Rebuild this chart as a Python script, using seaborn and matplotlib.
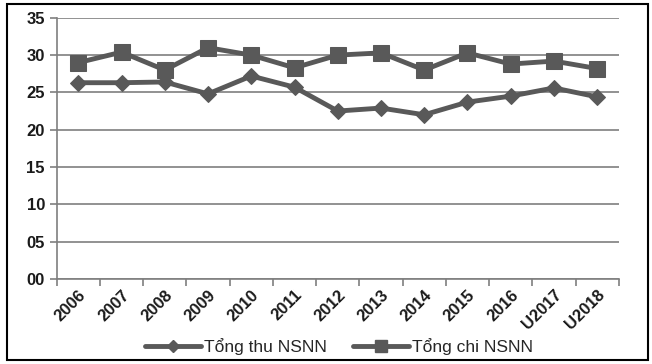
import matplotlib
matplotlib.use('Agg')
import matplotlib.pyplot as plt
import seaborn as sns
import pandas as pd
from matplotlib.patches import Rectangle
from matplotlib.ticker import FixedLocator, FuncFormatter

years = ['2006', '2007', '2008', '2009', '2010', '2011', '2012',
         '2013', '2014', '2015', '2016', 'U2017', 'U2018']
tong_thu = [26.3, 26.3, 26.4, 24.8, 27.2, 25.7, 22.5, 22.9, 22.0, 23.7, 24.5, 25.6, 24.4]
tong_chi = [29.0, 30.4, 28.0, 31.0, 30.0, 28.3, 30.0, 30.3, 28.0, 30.3, 28.8, 29.2, 28.2]

sns.set_style("white")
plt.rcParams['font.family'] = ['Liberation Sans Narrow', 'Liberation Sans', 'DejaVu Sans']

color = '#595959'
df = pd.DataFrame({'year': years * 2,
                   'value': tong_thu + tong_chi,
                   'series': ['Tổng thu NSNN'] * 13 + ['Tổng chi NSNN'] * 13})

fig = plt.figure(figsize=(6.52, 3.64), dpi=100)
ax = fig.add_axes([0.087, 0.234, 0.862, 0.717])
sns.lineplot(data=df, x='year', y='value', style='series', markers=['D', 's'],
             dashes=False, color=color, linewidth=3.5, markersize=9,
             markeredgecolor=color, ax=ax, legend=False)
ax.lines[0].set_markersize(8)
ax.lines[1].set_markersize(11)

ax.set_ylim(0, 35)
ax.set_xlim(-0.5, 12.5)
ax.set_yticks(range(0, 36, 5))
ax.yaxis.set_major_formatter(FuncFormatter(lambda v, p: '%02d' % v))
ax.yaxis.grid(True, color='#7f7f7f', linewidth=1.2)
ax.set_xlabel('')
ax.set_ylabel('')
for s in ['top', 'right']:
    ax.spines[s].set_visible(False)
for s in ['left', 'bottom']:
    ax.spines[s].set_color('#7f7f7f')
    ax.spines[s].set_linewidth(1.2)

ax.set_xticks(range(13))
ax.set_xticklabels(years, rotation=45, ha='right', rotation_mode='anchor',
                   fontsize=12, fontweight='bold', color='#1a1a1a')
ax.xaxis.set_minor_locator(FixedLocator([i - 0.5 for i in range(14)]))
ax.tick_params(axis='x', which='major', length=0, pad=6)
ax.tick_params(axis='x', which='minor', length=5, width=1.2, color='#7f7f7f', direction='out', bottom=True)
ax.tick_params(axis='y', length=5, width=1.2, color='#7f7f7f', left=True,
               labelsize=12, labelcolor='#1a1a1a')
for t in ax.get_yticklabels():
    t.set_fontweight('bold')

handles = [plt.Line2D([], [], color=color, lw=3.5, marker='D', markersize=6),
           plt.Line2D([], [], color=color, lw=3.5, marker='s', markersize=8)]
fig.legend(handles, ['Tổng thu NSNN', 'Tổng chi NSNN'], loc='center',
           bbox_to_anchor=(0.52, 0.048), ncol=2, frameon=False, fontsize=12.5,
           handlelength=3.2, columnspacing=1.5, handletextpad=0.2)

fig.patches.append(Rectangle((0.011, 0.01), 0.983, 0.98, transform=fig.transFigure,
                             fill=False, edgecolor='black', linewidth=1.5))
fig.savefig('out.png', dpi=100)
